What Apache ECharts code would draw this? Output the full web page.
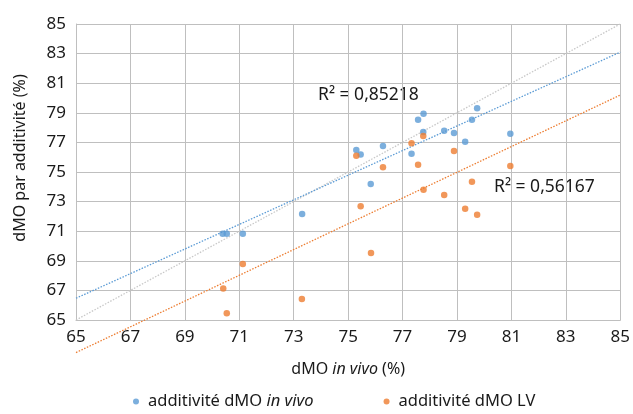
<!DOCTYPE html>
<html>
  <head>
    <meta charset="utf-8" />
    <title>dMO</title>
    <script src="https://cdn.jsdelivr.net/npm/echarts@6/dist/echarts.min.js"></script>
  </head>
  <body style="margin:0">
    <div id="main" style="width:633px;height:414px;background-color:white"></div>
    <script type="text/javascript">
      // points : [dMO in vivo, dMO par additivité]
      var inVivoPoints = [
        [70.39, 70.83], [70.54, 70.83], [71.13, 70.83], [73.31, 72.16],
        [75.30, 76.49], [75.46, 76.19], [75.83, 74.19], [76.28, 76.76],
        [77.33, 76.24], [77.57, 78.53], [77.76, 77.70], [77.77, 78.94],
        [78.53, 77.79], [78.89, 77.64], [79.30, 77.05], [79.55, 78.53],
        [79.74, 79.30], [80.96, 77.59]
      ];
      var lvPoints = [
        [70.41, 67.12], [70.54, 65.45], [71.13, 68.78], [73.30, 66.42],
        [75.30, 76.10], [75.46, 72.68], [75.84, 69.53], [76.28, 75.32],
        [77.33, 76.94], [77.57, 75.49], [77.76, 77.43], [77.77, 73.80],
        [78.53, 73.45], [78.89, 76.42], [79.30, 72.52], [79.55, 74.34],
        [79.74, 72.11], [80.96, 75.41]
      ];
      // courbes de tendance (extrémités lues) et droite y = x
      var inVivoTrend = [[65, 66.47], [85, 83.10]];
      var lvTrend = [[65, 62.80], [85, 80.20]];
      var identityLine = [[65, 65], [85, 85]];
      var seriesNames = ['additivité dMO in vivo', 'additivité dMO LV'];
      var r2Labels = ['R² = 0,85218', 'R² = 0,56167'];

      var font = 'Noto Sans';
      var txt = '#1a1a1a';
      var myChart = echarts.init(document.getElementById('main'));

      var axisCommon = {
        type: 'value',
        min: 65,
        max: 85,
        interval: 2,
        axisLine: { show: true, lineStyle: { color: '#bfbfbf', width: 1 } },
        axisTick: { show: false },
        splitLine: { show: true, lineStyle: { color: '#bfbfbf', width: 1 } }
      };

      var option = {
        textStyle: { fontFamily: font },
        animation: false,
        grid: { left: 76, right: 12, top: 24, bottom: 94 },
        xAxis: Object.assign({}, axisCommon, {
          name: '{a|dMO }{i|in vivo}{a| (%)}',
          nameLocation: 'middle',
          nameGap: 41,
          nameTextStyle: {
            rich: {
              a: { fontSize: 16, color: txt, fontFamily: font },
              i: { fontSize: 16, color: txt, fontFamily: font, fontStyle: 'italic' }
            }
          },
          axisLabel: { color: txt, fontSize: 17, fontFamily: font, margin: 9 }
        }),
        yAxis: Object.assign({}, axisCommon, {
          name: 'dMO par additivité (%)',
          nameLocation: 'middle',
          nameGap: 48,
          nameTextStyle: { fontSize: 16, color: txt, fontFamily: font, padding: [0, 0, 0, 28] },
          axisLabel: { color: txt, fontSize: 17, fontFamily: font, margin: 10 }
        }),
        legend: {
          data: seriesNames,
          left: 128,
          top: 388,
          icon: 'circle',
          itemWidth: 6,
          itemHeight: 6,
          itemGap: 70,
          formatter: function (name) {
            if (name === seriesNames[0]) return '{a|additivité dMO }{i|in vivo}';
            return '{a|' + name + '}';
          },
          textStyle: {
            padding: [0, 0, 0, 4],
            rich: {
              a: { fontSize: 16.5, color: txt, fontFamily: font },
              i: { fontSize: 16.5, color: txt, fontFamily: font, fontStyle: 'italic' }
            }
          }
        },
        graphic: [
          { type: 'text', left: 318, top: 86, style: { text: r2Labels[0], fontSize: 17.5, fill: txt, fontFamily: font } },
          { type: 'text', left: 494, top: 178, style: { text: r2Labels[1], fontSize: 17.5, fill: txt, fontFamily: font } }
        ],
        series: [
          {
            name: 'y=x',
            type: 'line',
            data: identityLine,
            showSymbol: false,
            silent: true,
            lineStyle: { color: '#c8c8c8', width: 1.3, type: [1.5, 1.5] },
            z: 1
          },
          {
            name: 'tendance in vivo',
            type: 'line',
            data: inVivoTrend,
            showSymbol: false,
            silent: true,
            lineStyle: { color: '#5b9bd5', width: 1.3, type: [1.5, 1.5] },
            z: 2
          },
          {
            name: 'tendance LV',
            type: 'line',
            data: lvTrend,
            showSymbol: false,
            silent: true,
            clip: false,
            lineStyle: { color: '#ed7d31', width: 1.3, type: [1.5, 1.5] },
            z: 2
          },
          {
            name: seriesNames[0],
            type: 'scatter',
            data: inVivoPoints,
            symbolSize: 6.5,
            itemStyle: { color: '#5b9bd5' },
            z: 3
          },
          {
            name: seriesNames[1],
            type: 'scatter',
            data: lvPoints,
            symbolSize: 6.5,
            itemStyle: { color: '#ed7d31' },
            z: 3
          }
        ]
      };

      myChart.setOption(option);
    </script>
  </body>
</html>
